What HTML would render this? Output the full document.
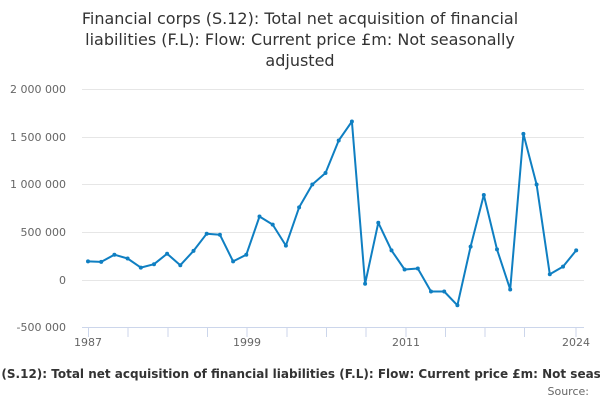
<!DOCTYPE html>
<html><head><meta charset="utf-8"><style>
body{margin:0;background:#fff;width:600px;height:400px;overflow:hidden;font-family:"DejaVu Sans","Liberation Sans",sans-serif}
</style></head><body>
<svg width="600" height="400" xmlns="http://www.w3.org/2000/svg" font-family="DejaVu Sans, Liberation Sans, sans-serif">
<text x="300" y="24" text-anchor="middle" font-size="16" fill="#333">Financial corps (S.12): Total net acquisition of financial</text>
<text x="300" y="45" text-anchor="middle" font-size="16" fill="#333">liabilities (F.L): Flow: Current price £m: Not seasonally</text>
<text x="300" y="66" text-anchor="middle" font-size="16" fill="#333">adjusted</text>
<g stroke="#e6e6e6" stroke-width="1">
<line x1="82" x2="584" y1="89.5" y2="89.5"/><line x1="82" x2="584" y1="137.5" y2="137.5"/>
<line x1="82" x2="584" y1="184.5" y2="184.5"/><line x1="82" x2="584" y1="232.5" y2="232.5"/>
<line x1="82" x2="584" y1="280.5" y2="280.5"/>
</g>
<line x1="82" x2="584" y1="327.5" y2="327.5" stroke="#ccd6eb"/>
<g stroke="#ccd6eb">
<line x1="88.5" x2="88.5" y1="327" y2="337"/><line x1="128" x2="128" y1="327" y2="337"/><line x1="168" x2="168" y1="327" y2="337"/><line x1="207.5" x2="207.5" y1="327" y2="337"/><line x1="247" x2="247" y1="327" y2="337"/><line x1="287" x2="287" y1="327" y2="337"/><line x1="326.5" x2="326.5" y1="327" y2="337"/><line x1="366" x2="366" y1="327" y2="337"/><line x1="406" x2="406" y1="327" y2="337"/><line x1="445.5" x2="445.5" y1="327" y2="337"/><line x1="485" x2="485" y1="327" y2="337"/><line x1="524.5" x2="524.5" y1="327" y2="337"/><line x1="576" x2="576" y1="327" y2="337"/>
</g>
<g font-size="11" fill="#666" text-anchor="end">
<text x="66" y="93">2 000 000</text><text x="66" y="141">1 500 000</text><text x="66" y="188">1 000 000</text><text x="66" y="236">500 000</text><text x="66" y="284">0</text><text x="66" y="331">-500 000</text>
</g>
<g font-size="11" fill="#666" text-anchor="middle">
<text x="88" y="346">1987</text><text x="247" y="346">1999</text><text x="406" y="346">2011</text><text x="576" y="346">2024</text>
</g>
<polyline fill="none" stroke="#0f7fc2" stroke-width="2" stroke-linejoin="round" points="88,261.4 101.2,261.9 114.4,254.7 127.6,258.5 140.8,267.6 154,264.2 167.1,253.7 180.3,265.2 193.5,250.9 206.7,233.7 219.9,234.7 233.1,261.4 246.3,254.7 259.5,216.5 272.7,224.6 285.9,245.6 299.1,207.4 312.3,184.5 325.5,173 338.7,140.5 351.9,121.5 365.1,283.8 378.3,222.7 391.5,250.4 404.6,269.5 417.8,268.5 431,291.5 444.2,291.5 457.4,305.3 470.6,246.6 483.8,195 497,249.4 510.2,289.5 523.4,133.9 536.6,184.5 549.8,274.3 563,266.6 576.2,250.4"/>
<g fill="#0f7fc2">
<circle cx="88" cy="261.4" r="2"/><circle cx="101.2" cy="261.9" r="2"/><circle cx="114.4" cy="254.7" r="2"/><circle cx="127.6" cy="258.5" r="2"/><circle cx="140.8" cy="267.6" r="2"/><circle cx="154" cy="264.2" r="2"/><circle cx="167.1" cy="253.7" r="2"/><circle cx="180.3" cy="265.2" r="2"/><circle cx="193.5" cy="250.9" r="2"/><circle cx="206.7" cy="233.7" r="2"/><circle cx="219.9" cy="234.7" r="2"/><circle cx="233.1" cy="261.4" r="2"/><circle cx="246.3" cy="254.7" r="2"/><circle cx="259.5" cy="216.5" r="2"/><circle cx="272.7" cy="224.6" r="2"/><circle cx="285.9" cy="245.6" r="2"/><circle cx="299.1" cy="207.4" r="2"/><circle cx="312.3" cy="184.5" r="2"/><circle cx="325.5" cy="173" r="2"/><circle cx="338.7" cy="140.5" r="2"/><circle cx="351.9" cy="121.5" r="2"/><circle cx="365.1" cy="283.8" r="2"/><circle cx="378.3" cy="222.7" r="2"/><circle cx="391.5" cy="250.4" r="2"/><circle cx="404.6" cy="269.5" r="2"/><circle cx="417.8" cy="268.5" r="2"/><circle cx="431" cy="291.5" r="2"/><circle cx="444.2" cy="291.5" r="2"/><circle cx="457.4" cy="305.3" r="2"/><circle cx="470.6" cy="246.6" r="2"/><circle cx="483.8" cy="195" r="2"/><circle cx="497" cy="249.4" r="2"/><circle cx="510.2" cy="289.5" r="2"/><circle cx="523.4" cy="133.9" r="2"/><circle cx="536.6" cy="184.5" r="2"/><circle cx="549.8" cy="274.3" r="2"/><circle cx="563" cy="266.6" r="2"/><circle cx="576.2" cy="250.4" r="2"/>
</g>
<text x="300" y="378" text-anchor="middle" font-size="12" font-weight="bold" fill="#333">Financial corps (S.12): Total net acquisition of financial liabilities (F.L): Flow: Current price £m: Not seasonally adjusted</text>
<text x="589" y="395" text-anchor="end" font-size="11" fill="#666">Source:</text>
</svg>
</body></html>
